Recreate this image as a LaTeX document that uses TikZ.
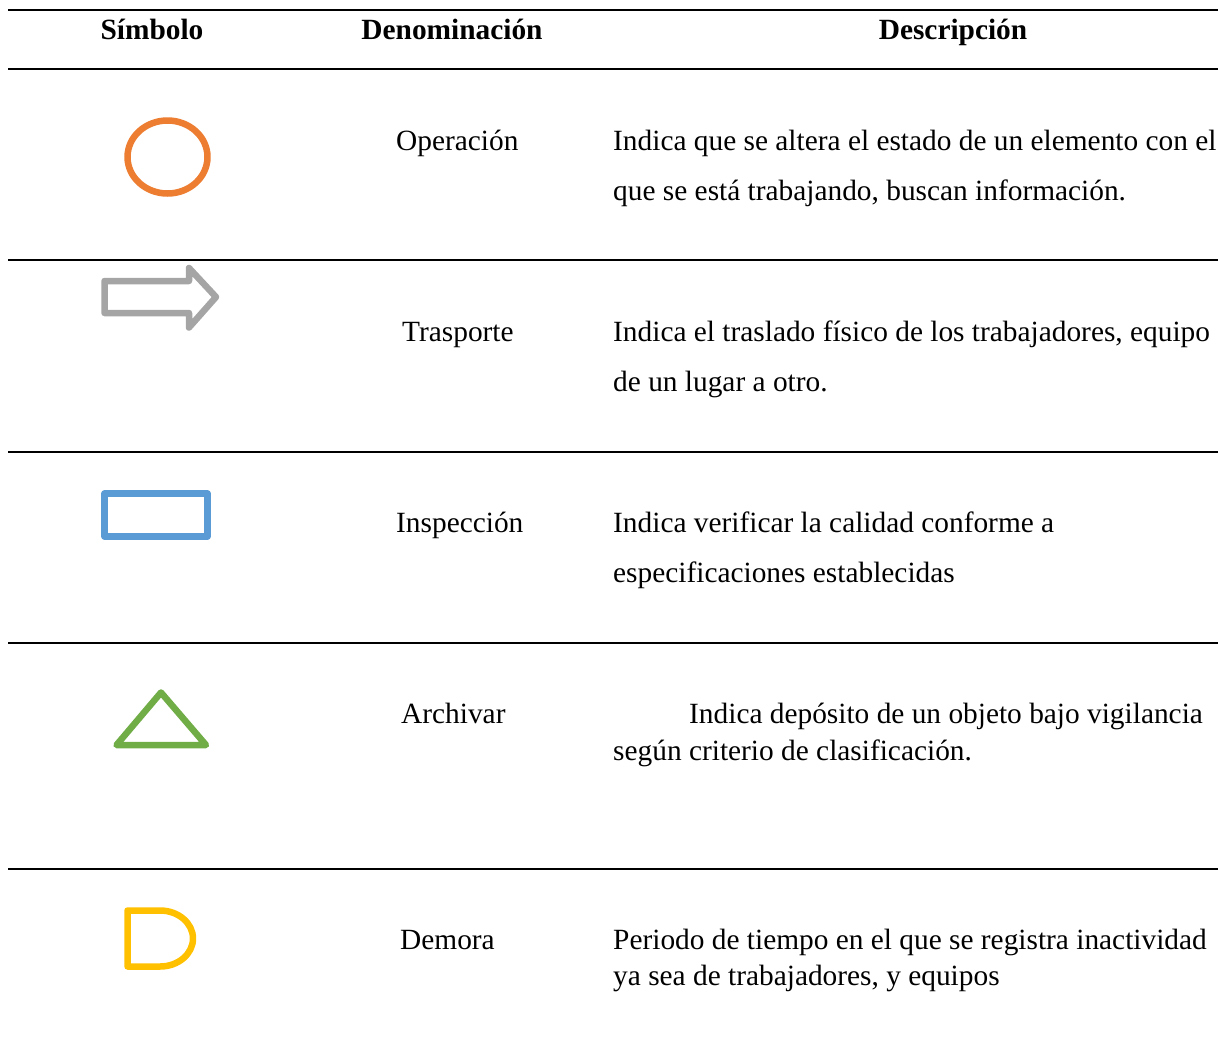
\documentclass[tikz,border=0pt]{standalone}
\usepackage{fontspec}
\setmainfont{Liberation Serif}
\definecolor{corange}{HTML}{ED7D31}
\definecolor{cgray}{HTML}{A5A5A5}
\definecolor{cblue}{HTML}{5B9BD5}
\definecolor{cgreen}{HTML}{70AD47}
\definecolor{cyellow}{HTML}{FFC000}
\begin{document}
\begin{tikzpicture}[x=1pt,y=-1pt,
  txt/.style={anchor=base west,inner sep=0pt,font=\fontsize{29.36}{34}\selectfont},
  hd/.style={anchor=base,inner sep=0pt,font=\fontsize{29.36}{34}\selectfont\bfseries},
  rule/.style={line width=1.7pt},
  sym/.style={line width=6.5pt,line join=round}]
\useasboundingbox (0,0) rectangle (1220,1050);
\foreach \y in {10,69,260,452,643,869}{\draw[rule] (8,\y) -- (1218,\y);}
\node[hd] (h1) at (152,39) {Símbolo};
\node[hd] (h2) at (452,39) {Denominación};
\node[hd] (h3) at (953,39) {Descripción};
\draw[sym,corange] (167.5,157) ellipse (40 and 36.5);
\draw[sym,cgray] (104.5,281) -- (189,281) -- (189,268) -- (216,297) -- (189,327.5) -- (189,313) -- (104.5,313) -- cycle;
\draw[sym,cblue] (104.5,493.5) rectangle (207.5,536.5);
\draw[sym,cgreen] (161,692.5) -- (206,745) -- (116.5,745) -- cycle;
\draw[sym,cyellow] (127.5,910.5) -- (160,910.5) arc (-90:90:33 and 28) -- (127.5,966.5) -- cycle;
\node[txt] (o) at (396,150.4) {Operación};
\node[txt] (t) at (402,341.4) {Trasporte};
\node[txt] (i) at (396,532.4) {Inspección};
\node[txt] (a) at (401,723.4) {Archivar};
\node[txt] (d) at (400,949.4) {Demora};
\node[txt] (d1) at (613,150.4) {Indica que se altera el estado de un elemento con el};
\node[txt] (d1b) at (613,200.4) {que se está trabajando, buscan información.};
\node[txt] (d2) at (613,341.4) {Indica el traslado físico de los trabajadores, equipo};
\node[txt] (d2b) at (613,391.4) {de un lugar a otro.};
\node[txt] (d3) at (613,532.4) {Indica verificar la calidad conforme a};
\node[txt] (d3b) at (613,582.4) {especificaciones establecidas};
\node[txt] (d4) at (689,723.4) {Indica depósito de un objeto bajo vigilancia};
\node[txt] (d4b) at (613,760) {según criterio de clasificación.};
\node[txt] (d5) at (613,949.4) {Periodo de tiempo en el que se registra inactividad};
\node[txt] (d5b) at (613,985.4) {ya sea de trabajadores, y equipos};
\end{tikzpicture}
\end{document}
